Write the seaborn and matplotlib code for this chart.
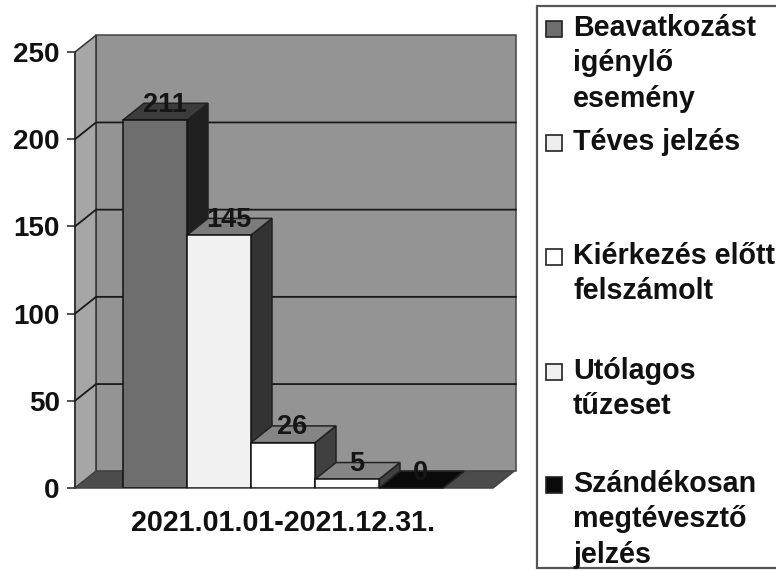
import pandas as pd
import seaborn as sns
import matplotlib.pyplot as plt
from matplotlib.patches import Polygon, Rectangle

# Data
PERIOD = "2021.01.01-2021.12.31."
CATEGORIES = ["Beavatkozást igénylő esemény", "Téves jelzés", "Kiérkezés előtt felszámolt",
              "Utólagos tűzeset", "Szándékosan megtévesztő jelzés"]
VALUES = [211, 145, 26, 5, 0]
Y_TICKS = [0, 50, 100, 150, 200, 250]
LEGEND_LINES = ["Beavatkozást\nigénylő\nesemény", "Téves jelzés", "Kiérkezés előtt\nfelszámolt",
                "Utólagos\ntűzeset", "Szándékosan\nmegtévesztő\njelzés"]

# Styles
FRONT = ["#6e6e6e", "#f1f1f1", "#ffffff", "#ffffff", "#0a0a0a"]
TOP = ["#3c3c3c", "#7c7c7c", "#858585", "#858585", "#0a0a0a"]
SIDE = ["#202020", "#333333", "#404040", "#404040", "#0a0a0a"]
SWATCH = ["#6e6e6e", "#eeeeee", "#ffffff", "#f0f0f0", "#0a0a0a"]
LEGEND_Y = [29, 143, 257, 372, 485]
W, H = 776, 571
DX, DY = 0.0525, 9.6  # 3D depth, in data units
XLIM = (-0.52, 0.53)
FONT_SIZE = 20

sns.set_theme(style="white")
plt.rcParams["font.family"] = ["Liberation Sans", "DejaVu Sans"]
plt.rcParams["font.weight"] = "bold"

df = pd.DataFrame({"period": [PERIOD] * len(VALUES), "type": CATEGORIES, "value": VALUES})

fig = plt.figure(figsize=(W / 100, H / 100), dpi=100, facecolor="white")
ax = fig.add_axes([75 / W, 1 - 488 / H, 420 / W, 436 / H])
ax.patch.set_visible(False)

sns.barplot(data=df, x="period", y="value", hue="type", hue_order=CATEGORIES,
            palette=FRONT, saturation=1, width=0.8, gap=0, dodge=True, legend=False,
            edgecolor="#111111", linewidth=1.1, zorder=5, ax=ax)
ax.set_xlim(*XLIM)
ax.set_ylim(0, 250)


def add_poly(points, color, z, edge="#222222"):
    ax.add_patch(Polygon(points, closed=True, facecolor=color, edgecolor=edge, linewidth=1.1,
                         clip_on=False, zorder=z))


x0, x1 = XLIM
# back wall, left wall, floor
add_poly([(x0 + DX, DY), (x1 + DX, DY), (x1 + DX, 250 + DY), (x0 + DX, 250 + DY)], "#949494", 1, edge="#444444")
add_poly([(x0, 0), (x0 + DX, DY), (x0 + DX, 250 + DY), (x0, 250)], "#a6a6a6", 1, edge="#333333")
add_poly([(x0, 0), (x1 - 0.005, 0), (x1 + DX - 0.005, DY), (x0 + DX, DY)], "#4c4c4c", 2, edge="#444444")

# gridlines on the walls
for t in Y_TICKS[1:-1]:
    ax.plot([x0, x0 + DX, x1 + DX], [t, t + DY, t + DY], color="#1a1a1a", lw=1.3, clip_on=False, zorder=3)

# sides and tops of the columns, left to right
for i, container in enumerate(ax.containers):
    bar = container[0]
    left, right, h = bar.get_x(), bar.get_x() + bar.get_width(), bar.get_height()
    z = 5 + i
    bar.set_zorder(z + 0.5)
    add_poly([(right, 0), (right + DX, DY), (right + DX, h + DY), (right, h)], SIDE[i], z)
    add_poly([(left, h), (right, h), (right + DX, h + DY), (left + DX, h + DY)], TOP[i], z)
    ax.text((left + right) / 2 + 0.024, h + DY - 0.8, str(VALUES[i]), ha="center", va="center",
            fontsize=FONT_SIZE - 0.5, color="#151515", zorder=20)

ax.set_yticks(Y_TICKS)
ax.set_xlabel("")
ax.set_ylabel("")
for s in ["top", "right", "bottom"]:
    ax.spines[s].set_visible(False)
ax.spines["left"].set_color("#333333")
ax.tick_params(axis="y", length=6, width=1.2, color="#333333", pad=5, labelsize=FONT_SIZE, labelcolor="#111111", left=True)
ax.tick_params(axis="x", length=0, pad=15, labelsize=FONT_SIZE + 0.6, labelcolor="#111111")

# legend panel, drawn in pixel coordinates
leg = fig.add_axes([0, 0, 1, 1])
leg.set_xlim(0, W)
leg.set_ylim(H, 0)
leg.axis("off")
leg.plot([W + 5, 537, 537, W + 5], [6, 6, 568, 568], color="#555555", lw=1.6, solid_joinstyle="miter")
for label, y, color in zip(LEGEND_LINES, LEGEND_Y, SWATCH):
    leg.add_patch(Rectangle((546, y - 8), 16, 16, facecolor=color, edgecolor="#222222", linewidth=1.2))
    leg.text(573, y - 15, label, ha="left", va="top", fontsize=FONT_SIZE + 0.6, color="#111111", linespacing=1.34)

plt.savefig("out.png", dpi=100)
plt.close()
